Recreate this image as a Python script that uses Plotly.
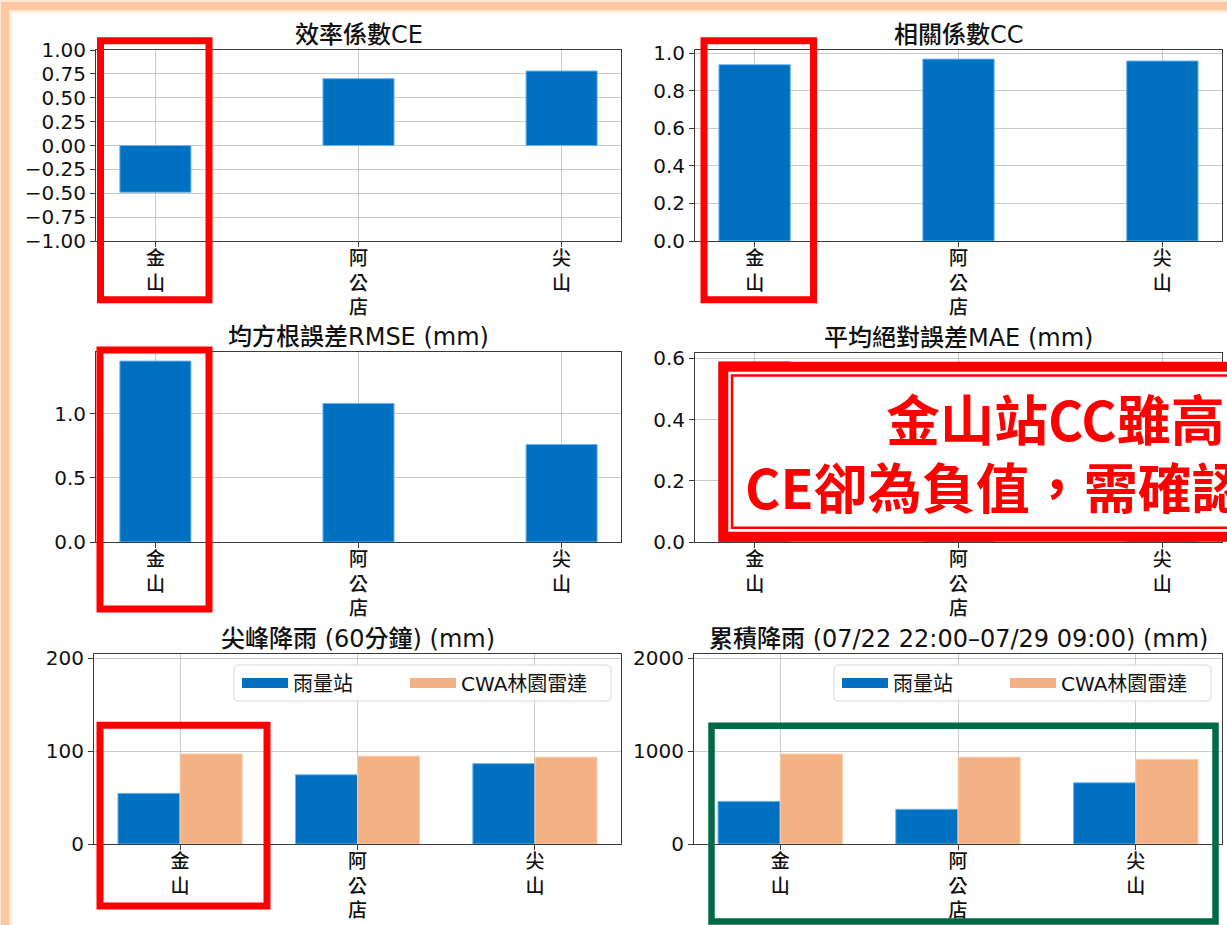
import plotly.graph_objects as go

W, H = 1227, 925

# ---- data ----
stations = ["金山", "阿公店", "尖山"]
ce = [-0.49, 0.70, 0.78]
cc = [0.94, 0.97, 0.96]
rmse = [1.41, 1.08, 0.76]
mae = [0.59, 0.45, 0.33]
peak_gauge = [54.5, 74.5, 86.5]
peak_radar = [97.0, 94.5, 93.5]
cum_gauge = [459, 373, 659]
cum_radar = [968, 935, 911]

series_names = ["雨量站", "CWA林園雷達"]
panel_titles = [
    "效率係數CE",
    "相關係數CC",
    "均方根誤差RMSE (mm)",
    "平均絕對誤差MAE (mm)",
    "尖峰降雨 (60分鐘) (mm)",
    "累積降雨 (07/22 22:00–07/29 09:00) (mm)",
]
note_lines = ["金山站CC雖高，", "CE卻為負值，需確認資料"]

BLUE = "#0070C0"
ORANGE = "#F4B183"
RED = "#FF0000"
GREEN = "#006A45"
CJK = "Noto Sans CJK TC"
NUM = "DejaVu Sans"
MIXED = "DejaVu Sans, Noto Sans CJK TC"


def fx(p):
    return p / W


def fy(p):
    return 1 - p / H


xpos = list(range(len(stations)))
ticktext = ["<br>".join(list(s)) for s in stations]

# panel frames in pixels: (left, right, top, bottom)
frames = [
    (96, 621, 50, 241),
    (695, 1222, 50, 241),
    (96, 621, 352, 542),
    (695, 1222, 352.5, 542),
    (94, 621, 654, 844),
    (694, 1222, 654, 844),
]

single_range = [-0.2925, 2.2925]
group_range = [-0.485, 2.485]
y_specs = [
    dict(range=[-1, 1], dtick=0.25, tickformat=".2f"),
    dict(range=[0, max(cc) * 1.05], dtick=0.2, tickformat=".1f"),
    dict(range=[0, max(rmse) * 1.05], dtick=0.5, tickformat=".1f"),
    dict(range=[0, max(mae) * 1.05], dtick=0.2, tickformat=".1f"),
    dict(range=[0, 204.5], dtick=100, tickformat="d"),
    dict(range=[0, 2045], dtick=1000, tickformat="d"),
]

fig = go.Figure()

edge_blue = dict(color="rgba(110,180,240,1)", width=1)
edge_orange = dict(color="rgba(250,205,175,1)", width=1)

single_values = [ce, cc, rmse, mae]
for i, vals in enumerate(single_values):
    n = i + 1
    fig.add_trace(go.Bar(
        x=xpos, y=vals, width=0.35, offset=-0.175,
        marker=dict(color=BLUE, line=edge_blue),
        xaxis=f"x{n}", yaxis=f"y{n}", showlegend=False,
    ))

# grouped panels: (gauge, radar, axis index, legend ids, legend frame in px)
grouped = [
    (peak_gauge, peak_radar, 5, ("legend", "legend2"), (234, 611, 665, 701)),
    (cum_gauge, cum_radar, 6, ("legend3", "legend4"), (834, 1211, 665, 701)),
]
for gauge, radar, n, lgs, _ in grouped:
    fig.add_trace(go.Bar(
        x=xpos, y=gauge, width=0.35, offset=-0.35,
        marker=dict(color=BLUE, line=edge_blue),
        xaxis=f"x{n}", yaxis=f"y{n}", showlegend=False, name=series_names[0],
    ))
    fig.add_trace(go.Bar(
        x=xpos, y=radar, width=0.35, offset=0.0,
        marker=dict(color=ORANGE, line=edge_orange),
        xaxis=f"x{n}", yaxis=f"y{n}", showlegend=False, name=series_names[1],
    ))
    # legend entries drawn as wide patches
    for name, col, lg in zip(series_names, [BLUE, ORANGE], lgs):
        fig.add_trace(go.Scatter(
            x=[None], y=[None], mode="lines", name=name,
            line=dict(color=col, width=15),
            xaxis=f"x{n}", yaxis=f"y{n}", legend=lg, showlegend=True,
        ))

layout = dict(
    width=W, height=H,
    margin=dict(l=0, r=0, t=0, b=0, autoexpand=False),
    paper_bgcolor="white", plot_bgcolor="white",
    barmode="overlay",
    font=dict(family=CJK, color="#111111"),
)

axis_common = dict(
    showline=True, mirror=True, linecolor="#3a3a3a", linewidth=1,
    showgrid=True, gridcolor="rgba(150,150,150,0.5)", gridwidth=1,
    zeroline=False, ticks="outside", ticklen=5, tickwidth=1, tickcolor="#3a3a3a",
    layer="above traces", automargin=False,
)

for i, (l, r, t, b) in enumerate(frames):
    n = i + 1
    xr = single_range if i < 4 else group_range
    layout[f"xaxis{n}"] = dict(
        axis_common, domain=[fx(l), fx(r)], range=xr, anchor=f"y{n}",
        tickmode="array", tickvals=xpos, ticktext=ticktext,
        tickfont=dict(family=CJK, size=19, color="#111111", weight=500),
        ticklabelstandoff=-5,
    )
    layout[f"yaxis{n}"] = dict(
        axis_common, domain=[fy(b), fy(t)], anchor=f"x{n}",
        tickfont=dict(family=NUM, size=20, color="#111111"),
        **y_specs[i],
    )

# one legend per entry so each patch sits where the frame expects it
legend_common = dict(
    orientation="v", xanchor="left", yanchor="middle",
    bgcolor="rgba(0,0,0,0)", borderwidth=0,
    font=dict(family=MIXED, size=20, color="#111111"),
    itemwidth=46,
)
entry_offsets = [8, 176]  # patch starts measured from the frame's left edge
for _, _, _, lgs, (l, r, t, b) in grouped:
    for lg, off in zip(lgs, entry_offsets):
        layout[lg] = dict(legend_common, x=fx(l + off - 5), y=fy((t + b) / 2))

annotations = []
for i, (l, r, t, b) in enumerate(frames):
    annotations.append(dict(
        text=panel_titles[i], xref="paper", yref="paper",
        x=fx((l + r) / 2), y=fy(t - 15), xanchor="center", yanchor="middle",
        showarrow=False, font=dict(family=MIXED, size=24, color="#111111", weight=500),
    ))

# callout text inside the MAE panel
annotations.append(dict(
    text=f"<b>{note_lines[0]}</b>", xref="paper", yref="paper",
    x=fx(884), y=fy(417), xanchor="left", yanchor="middle", showarrow=False,
    font=dict(family=CJK, size=54, color=RED),
))
annotations.append(dict(
    text=f"<b>{note_lines[1]}</b>", xref="paper", yref="paper",
    x=fx(743), y=fy(486), xanchor="left", yanchor="middle", showarrow=False,
    font=dict(family=CJK, size=54, color=RED),
))
layout["annotations"] = annotations


def rect(x0, y0, x1, y1, color, width, fill="rgba(0,0,0,0)"):
    return dict(
        type="rect", xref="paper", yref="paper",
        x0=fx(x0), x1=fx(x1), y0=fy(y0), y1=fy(y1),
        line=dict(color=color, width=width), fillcolor=fill, layer="above",
    )


def rounded(x0, y0, x1, y1, rad, color, fill):
    pts = (
        f"M{fx(x0 + rad)},{fy(y0)} L{fx(x1 - rad)},{fy(y0)} "
        f"Q{fx(x1)},{fy(y0)} {fx(x1)},{fy(y0 + rad)} L{fx(x1)},{fy(y1 - rad)} "
        f"Q{fx(x1)},{fy(y1)} {fx(x1 - rad)},{fy(y1)} L{fx(x0 + rad)},{fy(y1)} "
        f"Q{fx(x0)},{fy(y1)} {fx(x0)},{fy(y1 - rad)} L{fx(x0)},{fy(y0 + rad)} "
        f"Q{fx(x0)},{fy(y0)} {fx(x0 + rad)},{fy(y0)} Z"
    )
    return dict(type="path", xref="paper", yref="paper", path=pts,
                line=dict(color=color, width=1), fillcolor=fill, layer="above")


shapes = [
    # soft peach page border
    rect(5, 6, W + 40, H + 40, "rgba(253,200,160,0.45)", 13),
    rect(5, 6, W + 40, H + 40, "#FDC8A0", 8),
]
# legend frames
for _, _, _, _, (l, r, t, b) in grouped:
    shapes.append(rounded(l, t, r, b, 5, "#d6d6d6", "rgba(255,255,255,0.9)"))
shapes += [
    # highlight boxes around 金山
    rect(100.5, 40.8, 209, 299.8, RED, 7),
    rect(704, 40.8, 813.5, 299.8, RED, 7),
    rect(100, 350, 209, 609, RED, 7),
    rect(100, 725.3, 267, 906, RED, 7),
    # box around the cumulative rainfall bars
    rect(711.5, 725.7, 1215.5, 921.5, GREEN, 6.5),
    # callout frame (double border)
    rect(723.3, 366.7, W + 60, 536.7, RED, 10, fill="white"),
    rect(732, 375.5, W + 60, 527.8, RED, 2.5),
]
layout["shapes"] = shapes

fig.update_layout(**layout)
fig.write_html("out.html")
